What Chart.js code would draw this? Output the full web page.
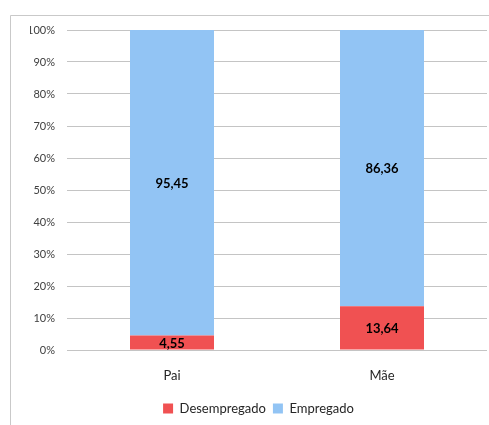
<!DOCTYPE html>
<html>
<head>
<meta charset="utf-8">
<script src="https://cdn.jsdelivr.net/npm/chart.js@4/dist/chart.umd.min.js"></script>
<style>
  html, body { margin: 0; padding: 0; background: #fff; }
  #wrap { width: 489px; height: 425px; }
</style>
</head>
<body>
<div id="wrap"><canvas id="bar-chart" width="489" height="425"></canvas></div>
<script>
// data
const categories = ['Pai', 'Mãe'];
const desempregado = [4.55, 13.64];
const empregado = [95.45, 86.36];
const seriesNames = ['Desempregado', 'Empregado'];
const yTicks = [0, 10, 20, 30, 40, 50, 60, 70, 80, 90, 100];

const FONT = 'Lato, "Open Sans", sans-serif';

// frame around the chart (left + top line only visible in the picture)
const framePlugin = {
    id: 'frame',
    beforeDraw(chart) {
        const ctx = chart.ctx;
        ctx.save();
        ctx.fillStyle = '#fff';
        ctx.fillRect(0, 0, chart.width, chart.height);
        ctx.strokeStyle = '#c9c9c9';
        ctx.lineWidth = 1;
        ctx.beginPath();
        ctx.moveTo(10.5, chart.height);
        ctx.lineTo(10.5, 15.5);
        ctx.lineTo(chart.width, 15.5);
        ctx.stroke();
        ctx.restore();
    }
};

// value labels in the middle of each segment
const valueLabels = {
    id: 'valueLabels',
    afterDatasetsDraw(chart) {
        const ctx = chart.ctx;
        ctx.save();
        ctx.font = 'bold 13px ' + FONT;
        ctx.fillStyle = '#000';
        ctx.textAlign = 'center';
        ctx.textBaseline = 'middle';
        chart.data.datasets.forEach((ds, i) => {
            chart.getDatasetMeta(i).data.forEach((bar, j) => {
                const mid = (bar.y + bar.base) / 2;
                ctx.fillText(ds.data[j].toFixed(2).replace('.', ','), bar.x, mid + 1);
            });
        });
        ctx.restore();
    }
};

new Chart(document.getElementById('bar-chart').getContext('2d'), {
    type: 'bar',
    data: {
        labels: categories,
        datasets: [{
            label: seriesNames[0],
            data: desempregado,
            backgroundColor: '#f05152'
        }, {
            label: seriesNames[1],
            data: empregado,
            backgroundColor: '#92c4f4'
        }]
    },
    options: {
        responsive: false,
        animation: false,
        devicePixelRatio: 1,
        layout: { padding: { left: 30, right: 2, top: 30, bottom: 0 } },
        datasets: {
            bar: { barPercentage: 0.4, categoryPercentage: 1 }
        },
        scales: {
            x: {
                stacked: true,
                grid: { display: false },
                border: { display: false },
                ticks: { color: '#262626', font: { family: FONT, size: 13 }, padding: 10 },
                afterFit(scale) { scale.height = 45; }
            },
            y: {
                stacked: true,
                min: 0,
                max: 100,
                afterBuildTicks(scale) { scale.ticks = yTicks.map(v => ({ value: v })); },
                grid: { color: '#c4c4c4', drawTicks: false },
                border: { display: false },
                ticks: {
                    color: '#404040',
                    font: { family: FONT, size: 11 },
                    padding: 12,
                    callback: v => v + '%'
                },
                afterFit(scale) { scale.width = 37; }
            }
        },
        plugins: {
            legend: {
                position: 'bottom',
                labels: {
                    boxWidth: 10,
                    boxHeight: 10,
                    padding: 7,
                    color: '#262626',
                    font: { family: FONT, size: 13 }
                }
            },
            tooltip: { enabled: false }
        }
    },
    plugins: [framePlugin, valueLabels]
});
</script>
</body>
</html>
